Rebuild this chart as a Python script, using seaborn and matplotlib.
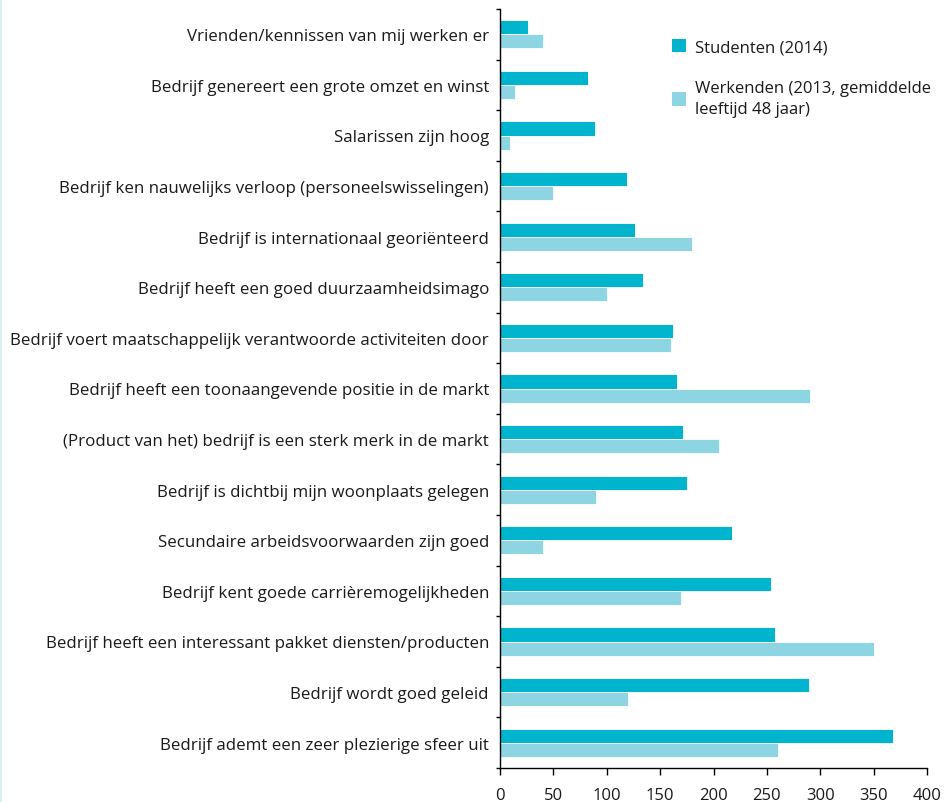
import matplotlib
matplotlib.use("Agg")
import matplotlib.pyplot as plt
import seaborn as sns
import pandas as pd
from matplotlib.patches import Patch

categories = [
    "Vrienden/kennissen van mij werken er",
    "Bedrijf genereert een grote omzet en winst",
    "Salarissen zijn hoog",
    "Bedrijf ken nauwelijks verloop (personeelswisselingen)",
    "Bedrijf is internationaal georiënteerd",
    "Bedrijf heeft een goed duurzaamheidsimago",
    "Bedrijf voert maatschappelijk verantwoorde activiteiten door",
    "Bedrijf heeft een toonaangevende positie in de markt",
    "(Product van het) bedrijf is een sterk merk in de markt",
    "Bedrijf is dichtbij mijn woonplaats gelegen",
    "Secundaire arbeidsvoorwaarden zijn goed",
    "Bedrijf kent goede carrièremogelijkheden",
    "Bedrijf heeft een interessant pakket diensten/producten",
    "Bedrijf wordt goed geleid",
    "Bedrijf ademt een zeer plezierige sfeer uit",
]
studenten = [26, 82, 89, 119, 126, 134, 162, 166, 171, 175, 217, 254, 258, 289, 368]
werkenden = [40, 14, 9, 50, 180, 100, 160, 290, 205, 90, 40, 170, 350, 120, 260]
series = ["Studenten (2014)", "Werkenden (2013, gemiddelde\nleeftijd 48 jaar)"]
xticks = [0, 50, 100, 150, 200, 250, 300, 350, 400]
colors = ["#00B4CD", "#8DD5E3"]

df = pd.DataFrame({
    "cat": categories * 2,
    "val": studenten + werkenden,
    "serie": [series[0]] * len(categories) + [series[1]] * len(categories),
})

sns.set_theme(style="white")
plt.rcParams["font.family"] = ["Open Sans", "DejaVu Sans"]

fig = plt.figure(figsize=(9.53, 8.03), dpi=100)
ax = fig.add_axes([500 / 953, 1 - 769 / 803, 427 / 953, 759 / 803])

sns.barplot(data=df, y="cat", x="val", hue="serie", orient="h",
            palette=colors, width=0.56, ax=ax, legend=False,
            edgecolor="white", linewidth=0.6, saturation=1)

ax.set_xlim(0, 400)
ax.set_ylim(len(categories) - 0.5, -0.5)
ax.set_xticks(xticks)
ax.set_xticklabels([str(t) for t in xticks], fontsize=12, color="#1a1a1a")
ax.set_yticks(range(len(categories)))
ax.set_yticklabels(categories, fontsize=12.2, color="#1a1a1a")
ax.set_xlabel("")
ax.set_ylabel("")
ax.tick_params(axis="y", length=0, pad=8)
ax.set_yticks([i + 0.5 for i in range(-1, len(categories))], minor=True)
ax.tick_params(axis="y", which="minor", length=3, width=1, color="black", left=True)
ax.tick_params(axis="x", length=5, width=1, color="black", bottom=True, pad=9)
for s in ["top", "right"]:
    ax.spines[s].set_visible(False)
for s in ["left", "bottom"]:
    ax.spines[s].set_color("black")
    ax.spines[s].set_linewidth(1)

handles = [Patch(facecolor=c, edgecolor="none") for c in colors]
leg = fig.legend(handles, series, loc="upper left", bbox_to_anchor=(665 / 953, 1 - 33 / 803),
                 frameon=False, fontsize=12, handlelength=0.85, handleheight=0.85,
                 handletextpad=0.55, labelspacing=1.5, borderaxespad=0,
                 labelcolor="#1a1a1a")
for t in leg.get_texts():
    t.set_linespacing(1.45)

fig.add_artist(plt.Line2D([1 / 953, 1 / 953], [0, 1], transform=fig.transFigure,
                          color="#D6F1F7", linewidth=1.5))

fig.savefig("out.png", dpi=100)
